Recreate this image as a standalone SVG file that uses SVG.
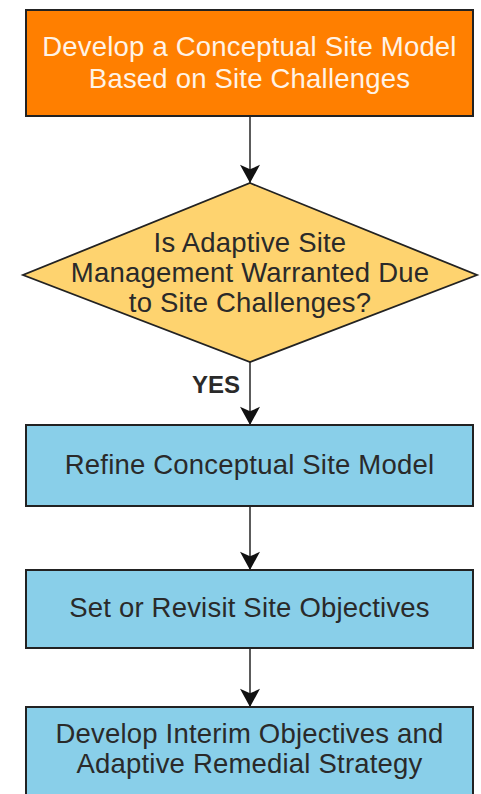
<svg xmlns="http://www.w3.org/2000/svg" width="481" height="794" viewBox="0 0 481 794">
  <style>
    .box { stroke: #222; stroke-width: 2; }
    .step { fill: #89CFE9; }
    .start { fill: #FF7F00; }
    .decision { fill: #FED36F; stroke: #222; stroke-width: 1.8; stroke-linejoin: miter; }
    .label { font-family: "Liberation Sans", Arial, sans-serif; font-size: 27.5px; letter-spacing: 0.2px; text-anchor: middle; fill: #2a2a2a; }
    .light { fill: #FFF3E6; }
    .yes { font-family: "Liberation Sans", Arial, sans-serif; font-size: 24px; font-weight: bold; fill: #2a2a2a; }
    .edge { stroke: #333; stroke-width: 1.6; fill: none; marker-end: url(#arrow); }
  </style>
  <defs>
    <marker id="arrow" viewBox="0 0 20 22" refX="20" refY="11" markerWidth="22" markerHeight="20" markerUnits="userSpaceOnUse" orient="auto">
      <path d="M0,0 L20,11 L0,22 L5,11 Z" fill="#111"/>
    </marker>
  </defs>
  <rect width="481" height="794" fill="#fff"/>

  <g id="connectors">
    <line class="edge" x1="250" y1="116" x2="250" y2="183"/>
    <line class="edge" x1="250" y1="362" x2="250" y2="425"/>
    <line class="edge" x1="250" y1="506" x2="250" y2="570"/>
    <line class="edge" x1="250" y1="648" x2="250" y2="707"/>
  </g>

  <g id="develop-csm">
    <rect class="box start" x="26" y="10" width="447" height="106"/>
    <text class="label light" x="249.5" y="56">Develop a Conceptual Site Model</text>
    <text class="label light" x="249.5" y="88">Based on Site Challenges</text>
  </g>

  <g id="decision">
    <polygon class="decision" points="250,183 477,275 250,362 23,275"/>
    <text class="label" x="250" y="252">Is Adaptive Site</text>
    <text class="label" x="250" y="282">Management Warranted Due</text>
    <text class="label" x="250" y="312">to Site Challenges?</text>
  </g>

  <text id="yes-label" class="yes" x="192" y="393">YES</text>

  <g id="refine-csm">
    <rect class="box step" x="26" y="425" width="447" height="81"/>
    <text class="label" x="249.5" y="474">Refine Conceptual Site Model</text>
  </g>

  <g id="site-objectives">
    <rect class="box step" x="26" y="570" width="447" height="78"/>
    <text class="label" x="249.5" y="617">Set or Revisit Site Objectives</text>
  </g>

  <g id="interim-objectives">
    <rect class="box step" x="26" y="707" width="447" height="100"/>
    <text class="label" x="249.5" y="743">Develop Interim Objectives and</text>
    <text class="label" x="249.5" y="773">Adaptive Remedial Strategy</text>
  </g>
</svg>
